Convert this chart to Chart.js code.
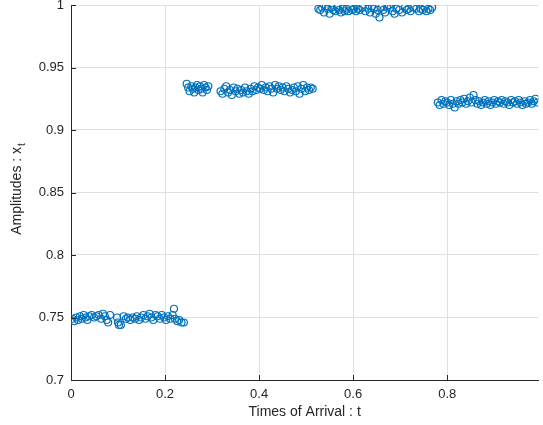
<!DOCTYPE html>
<html>
<head>
<meta charset="utf-8">
<script src="https://cdn.jsdelivr.net/npm/chart.js@4.4.1/dist/chart.umd.min.js"></script>
<style>
  html, body { margin: 0; padding: 0; background: #fff; }
  #wrap { width: 543px; height: 425px; }
</style>
</head>
<body>
<div id="wrap"><canvas id="arrivalChart" width="543" height="425"></canvas></div>
<script>
// 到着時刻と振幅（区間ごと）
const t1 = [0.003,0.007,0.011,0.015,0.019,0.023,0.027,0.031,0.035,0.039,0.044,0.049,0.054,0.059,0.064,0.068,0.072,0.076,0.079,0.083,0.098,0.100,0.102,0.106,0.112,0.117,0.121,0.126,0.131,0.136,0.140,0.145,0.149,0.154,0.158,0.163,0.167,0.171,0.175,0.180,0.184,0.189,0.193,0.198,0.202,0.206,0.211,0.216,0.219,0.221,0.226,0.230,0.235,0.240];
const a1 = [0.749,0.747,0.750,0.748,0.751,0.749,0.752,0.750,0.748,0.751,0.752,0.750,0.751,0.752,0.749,0.753,0.751,0.748,0.746,0.752,0.750,0.746,0.744,0.744,0.751,0.749,0.750,0.748,0.750,0.749,0.751,0.748,0.750,0.752,0.749,0.751,0.753,0.750,0.748,0.752,0.751,0.749,0.752,0.750,0.748,0.751,0.749,0.752,0.757,0.749,0.747,0.748,0.746,0.746];

const t2 = [0.246,0.249,0.252,0.256,0.259,0.262,0.265,0.268,0.271,0.274,0.277,0.280,0.283,0.286,0.289,0.292,
  0.318,0.322,0.326,0.330,0.334,0.338,0.342,0.346,0.350,0.354,0.358,0.362,0.366,0.370,0.374,0.378,0.382,0.386,0.390,0.394,0.398,0.402,0.406,0.410,0.414,0.418,0.422,0.426,0.430,0.434,0.438,0.442,0.446,0.450,0.454,0.458,0.462,0.466,0.470,0.474,0.478,0.482,0.486,0.490,0.494,0.498,0.502,0.506,0.510,0.514];
const a2 = [0.937,0.934,0.931,0.935,0.933,0.930,0.934,0.936,0.932,0.935,0.933,0.930,0.936,0.934,0.932,0.935,
  0.931,0.929,0.933,0.935,0.930,0.932,0.928,0.934,0.931,0.933,0.929,0.932,0.930,0.934,0.931,0.929,0.933,0.931,0.935,0.932,0.934,0.933,0.936,0.932,0.934,0.931,0.935,0.933,0.930,0.936,0.933,0.935,0.932,0.934,0.931,0.935,0.933,0.930,0.932,0.934,0.931,0.935,0.929,0.933,0.936,0.931,0.934,0.932,0.934,0.933];

const t3 = [0.526,0.530,0.534,0.538,0.542,0.546,0.550,0.554,0.558,0.562,0.566,0.570,0.574,0.578,0.582,0.586,0.590,0.594,0.598,0.602,0.606,0.610,0.614,0.620,0.626,0.632,0.636,0.640,0.644,0.648,0.652,0.656,0.660,0.664,0.668,0.672,0.676,0.680,0.684,0.688,0.692,0.698,0.704,0.710,0.714,0.718,0.722,0.728,0.734,0.740,0.744,0.748,0.752,0.756,0.760,0.764,0.768];
const a3 = [0.997,0.996,0.998,0.994,0.999,0.997,0.993,0.998,0.996,0.995,0.998,0.996,0.994,0.997,0.995,0.997,0.995,0.998,0.996,0.997,0.995,0.997,0.996,0.998,0.995,0.997,0.994,0.999,0.997,0.993,0.996,0.990,0.998,0.996,0.994,0.998,1.000,0.998,0.995,0.993,0.997,0.996,0.994,0.998,0.996,0.997,0.995,0.998,0.997,0.995,0.997,0.996,0.998,0.995,0.997,0.996,0.998];

const t4 = [0.780,0.784,0.788,0.792,0.796,0.800,0.804,0.808,0.812,0.816,0.820,0.824,0.828,0.832,0.836,0.840,0.844,0.848,0.852,0.856,0.860,0.864,0.868,0.872,0.876,0.880,0.884,0.888,0.892,0.896,0.900,0.904,0.908,0.912,0.916,0.920,0.924,0.928,0.932,0.936,0.940,0.944,0.948,0.952,0.956,0.960,0.964,0.968,0.972,0.976,0.980,0.984,0.988,0.992];
const a4 = [0.922,0.920,0.924,0.921,0.923,0.922,0.920,0.924,0.921,0.918,0.923,0.921,0.924,0.922,0.925,0.921,0.923,0.926,0.922,0.928,0.924,0.921,0.923,0.920,0.922,0.924,0.921,0.923,0.920,0.922,0.924,0.921,0.923,0.922,0.924,0.921,0.923,0.922,0.920,0.924,0.922,0.923,0.921,0.924,0.922,0.920,0.923,0.921,0.922,0.924,0.921,0.923,0.925,0.922];

// 軸の目盛
const xTicks = [0, 0.2, 0.4, 0.6, 0.8];
const yTicks = [0.7, 0.75, 0.8, 0.85, 0.9, 0.95, 1];
const xLabel = 'Times of Arrival : t';
const yLabel = 'Amplitudes : x';
const ySub = 't';

const times = [...t1, ...t2, ...t3, ...t4];
const amps = [...a1, ...a2, ...a3, ...a4];
const points = times.map((t, i) => ({ x: t, y: amps[i] }));

const FONT = "'Liberation Sans', Arial, Helvetica, sans-serif";
const TXT = '#262626';

// MATLAB風の内向き目盛とy軸タイトル（下付き文字）
const extras = {
    id: 'extras',
    afterDraw(chart) {
        const c = chart.ctx;
        const xs = chart.scales.x, ys = chart.scales.y;
        const a = chart.chartArea;
        c.save();
        c.strokeStyle = TXT;
        c.lineWidth = 1;
        c.beginPath();
        xTicks.forEach(v => {
            const px = Math.round(xs.getPixelForValue(v)) + 0.5;
            c.moveTo(px, a.bottom);
            c.lineTo(px, a.bottom - 5);
        });
        yTicks.forEach(v => {
            const py = Math.round(ys.getPixelForValue(v)) + 0.5;
            c.moveTo(a.left, py);
            c.lineTo(a.left + 5, py);
        });
        c.stroke();

        c.fillStyle = TXT;
        c.translate(17, (a.top + a.bottom) / 2 - 3);
        c.rotate(-Math.PI / 2);
        c.font = '14px ' + FONT;
        const w1 = c.measureText(yLabel).width;
        c.font = '10px ' + FONT;
        const w2 = c.measureText(ySub).width;
        const x0 = -(w1 + w2) / 2;
        c.textBaseline = 'middle';
        c.textAlign = 'left';
        c.font = '14px ' + FONT;
        c.fillText(yLabel, x0, 0);
        c.font = '10px ' + FONT;
        c.fillText(ySub, x0 + w1 + 1, 5);
        c.restore();
    }
};

const ctx = document.getElementById('arrivalChart').getContext('2d');
const chart = new Chart(ctx, {
    type: 'scatter',
    data: {
        datasets: [{
            data: points,
            borderColor: '#0072BD',
            backgroundColor: 'rgba(0,0,0,0)',
            pointRadius: 3.5,
            pointBorderWidth: 1.2,
            pointHoverRadius: 3.5
        }]
    },
    options: {
        responsive: false,
        animation: false,
        layout: { padding: { top: 5, right: 0, left: 0, bottom: 0 } },
        plugins: {
            legend: { display: false },
            tooltip: { enabled: false }
        },
        scales: {
            x: {
                type: 'linear',
                min: 0,
                max: 0.9937,
                afterBuildTicks: s => { s.ticks = xTicks.map(v => ({ value: v })); },
                afterFit: s => { s.height = 45; s.paddingRight = 0; },
                grid: { color: '#e0e0e0', lineWidth: 1, drawTicks: false },
                border: { color: TXT, width: 1 },
                ticks: {
                    padding: 7,
                    color: TXT,
                    font: { family: FONT, size: 13 },
                    maxRotation: 0,
                    callback: v => String(Math.round(v * 10) / 10)
                },
                title: {
                    display: true,
                    text: xLabel,
                    color: TXT,
                    font: { family: FONT, size: 14 },
                    padding: { top: 0, bottom: 4 }
                }
            },
            y: {
                type: 'linear',
                min: 0.7,
                max: 1,
                afterBuildTicks: s => { s.ticks = yTicks.map(v => ({ value: v })); },
                afterFit: s => { s.width = 71; s.paddingTop = 0; s.paddingBottom = 0; },
                grid: { color: '#e0e0e0', lineWidth: 1, drawTicks: false },
                border: { color: TXT, width: 1 },
                ticks: {
                    padding: 7,
                    color: TXT,
                    font: { family: FONT, size: 13 },
                    callback: v => String(Math.round(v * 100) / 100)
                }
            }
        }
    },
    plugins: [extras]
});
</script>
</body>
</html>
